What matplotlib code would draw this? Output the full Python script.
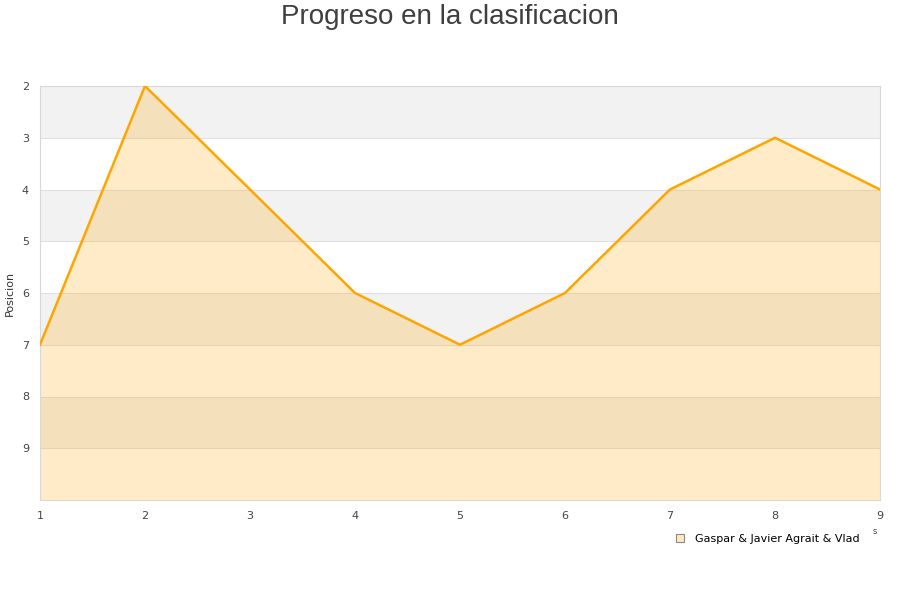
import matplotlib.pyplot as plt
from matplotlib.patches import Patch

# Jornadas y posiciones
jornadas = [1, 2, 3, 4, 5, 6, 7, 8, 9]
posiciones = [7, 2, 4, 6, 7, 6, 4, 3, 4]
yticks = [2, 3, 4, 5, 6, 7, 8, 9]
equipo = "Gaspar & Javier Agrait & Vlad"

fig = plt.figure(figsize=(9, 6), dpi=100)
ax = fig.add_axes([40 / 900, 1 - 500 / 600, 840 / 900, 414 / 600])

# bandas alternas
for y0 in range(2, 10, 2):
    ax.axhspan(y0, y0 + 1, color="#F2F2F2", zorder=0, lw=0)
for y in range(3, 10):
    ax.axhline(y, color="#E0E0E0", lw=0.8, zorder=1)

ax.fill_between(jornadas, posiciones, 10, color="#FFA500", alpha=0.22, lw=0, zorder=2)
ax.plot(jornadas, posiciones, color="#FFA500", lw=1.8, zorder=3)

ax.set_xlim(1, 9)
ax.set_ylim(10, 2)
ax.set_xticks(jornadas)
ax.set_yticks(yticks)
ax.tick_params(length=0, labelsize=8, labelcolor="#444444", pad=8)
for s in ax.spines.values():
    s.set_color("#D8D8D8")
ax.set_ylabel("Posicion", fontsize=8, color="#333333")
ax.yaxis.set_label_coords(-25 / 840, 0.5)

fig.text(0.5, 1 - 17 / 600, "Progreso en la clasificacion", ha="center", va="center",
         fontsize=20, color="#3F3F3F", family="Liberation Sans")
fig.text(875 / 900, 1 - 532 / 600, "s", ha="center", va="center", fontsize=6, color="#444444")

leg = fig.legend(handles=[Patch(facecolor="#FFE9C2", edgecolor="#888888", lw=0.8, label=equipo)],
                 loc="center right", bbox_to_anchor=(870 / 900, 1 - 539 / 600),
                 frameon=False, fontsize=8, handlelength=0.7, handleheight=0.7,
                 handletextpad=1.0)

fig.savefig("out.png", dpi=100)
